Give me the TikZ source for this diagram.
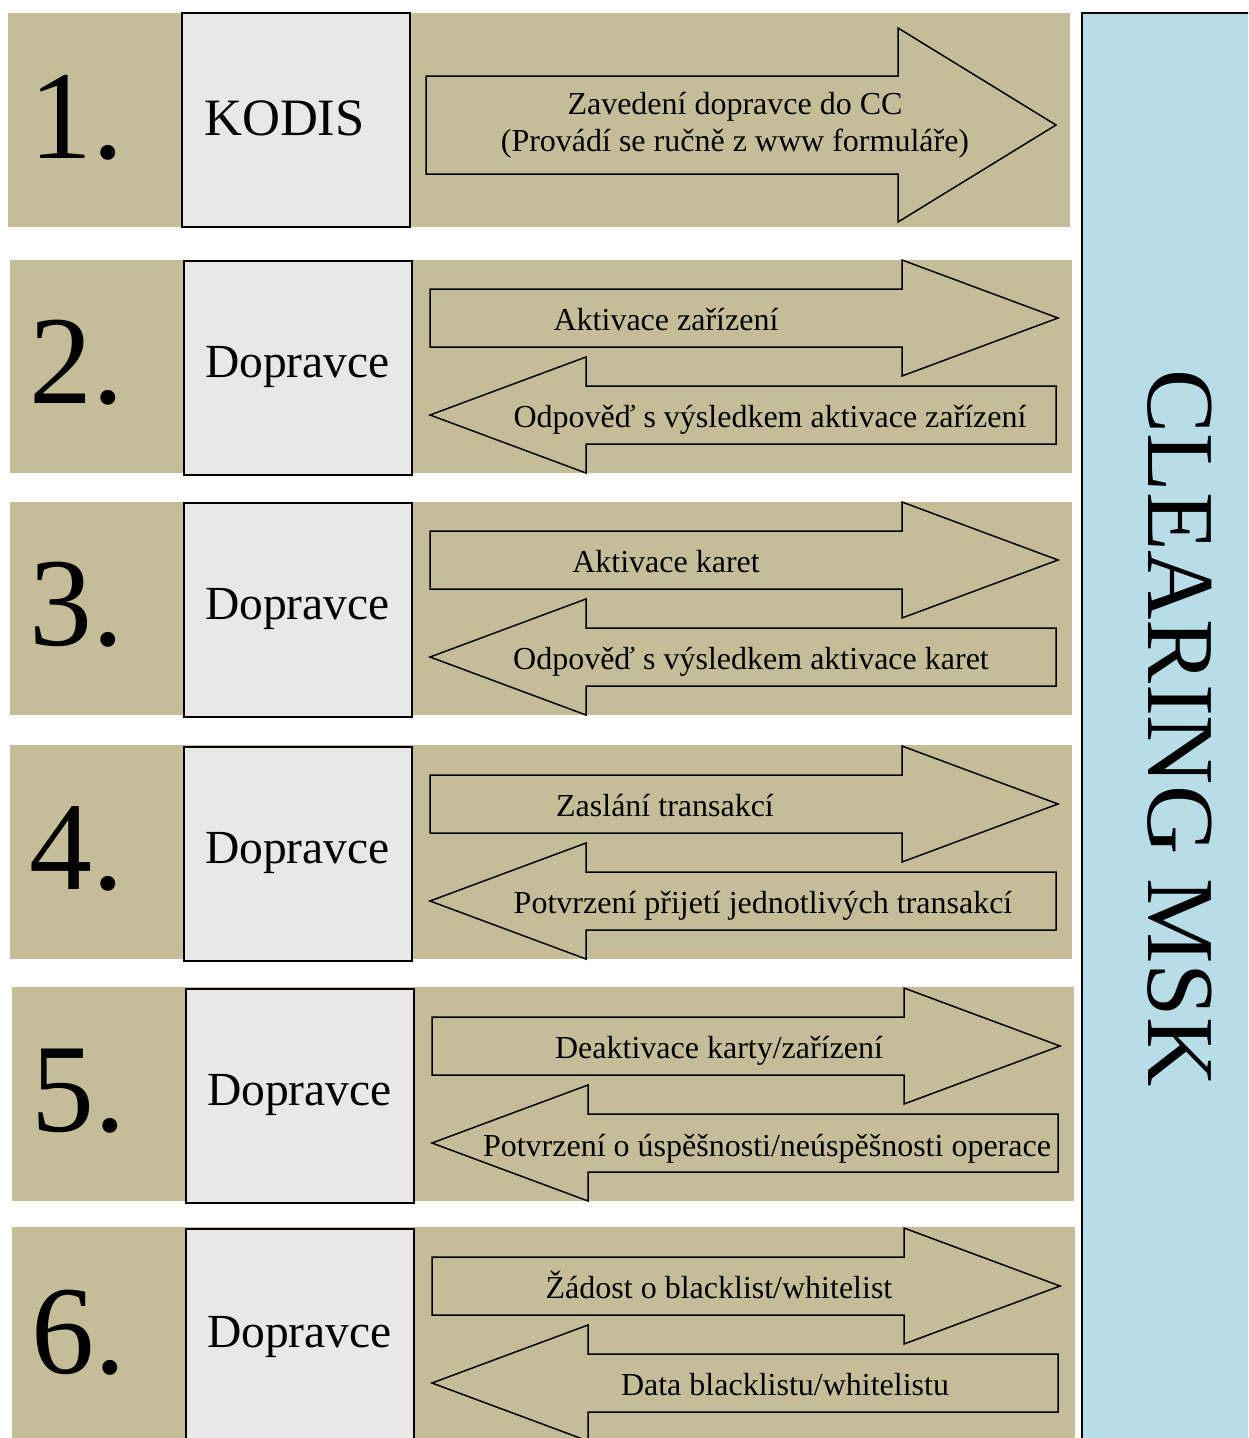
\documentclass[tikz,border=0pt]{standalone}
\usepackage{fontspec}
\setmainfont{Liberation Serif}
\definecolor{rowtan}{RGB}{196,189,151}
\definecolor{boxgray}{RGB}{232,232,232}
\definecolor{clearblue}{RGB}{183,221,232}
\tikzset{
  rowbg/.style={fill=rowtan},
  party/.style={draw,fill=boxgray,line width=1.5pt},
  blockarr/.style={draw,fill=rowtan,line width=1.5pt,line join=miter},
  msg/.style={inner sep=0pt,font=\fontsize{32}{37}\selectfont},
  who/.style={inner sep=0pt,anchor=base west},
  num/.style={inner sep=0pt,anchor=base,font=\fontsize{126}{130}\selectfont}
}

\begin{document}
\begin{tikzpicture}[x=1pt,y=-1pt]
\useasboundingbox (0,0) rectangle (1248,1438);
\clip (0,0) rectangle (1248,1438);

% clearing centre
\draw[fill=clearblue,line width=2pt] (1082,13) rectangle (1270,1460);
\node[inner sep=0pt,rotate=-90,font=\fontsize{96}{100}\selectfont] (cc) at (1180,728) {CLEARING MSK};

% row backgrounds
\fill[rowbg] (8,13) rectangle (1070,227);
\fill[rowbg] (10,260) rectangle (1072,473);
\fill[rowbg] (10,502) rectangle (1072,715);
\fill[rowbg] (10,745) rectangle (1072,959);
\fill[rowbg] (12,987) rectangle (1074,1201);
\fill[rowbg] (12,1227) rectangle (1075,1460);

% step numbers
\node[num] (s1) at (77,158) {1.};
\node[num] (s2) at (77,403) {2.};
\node[num] (s3) at (77,645) {3.};
\node[num] (s4) at (77,889) {4.};
\node[num] (s5) at (79,1131) {5.};
\node[num] (s6) at (79,1373) {6.};

% parties
\draw[party] (182,13) rectangle (410,227);
\draw[party] (184,261) rectangle (412,475);
\draw[party] (184,503) rectangle (412,717);
\draw[party] (184,747) rectangle (412,961);
\draw[party] (186,989) rectangle (414,1203);
\draw[party] (186,1229) rectangle (414,1460);
\node[who,font=\fontsize{52.5}{55}\selectfont] (p1) at (204,135) {KODIS};
\node[who,font=\fontsize{47.5}{50}\selectfont] (p2) at (205,377) {Dopravce};
\node[who,font=\fontsize{47.5}{50}\selectfont] (p3) at (205,619) {Dopravce};
\node[who,font=\fontsize{47.5}{50}\selectfont] (p4) at (205,863) {Dopravce};
\node[who,font=\fontsize{47.5}{50}\selectfont] (p5) at (207,1105) {Dopravce};
\node[who,font=\fontsize{47.5}{50}\selectfont] (p6) at (207,1347) {Dopravce};

% step 1
\draw[blockarr] (426,76) -- (898,76) -- (898,28) -- (1056,125) -- (898,222) -- (898,174) -- (426,174) -- cycle;
\node[msg,align=center] (r1) at (735,125) {Zavedení dopravce do CC\\(Provádí se ručně z www formuláře)};

% step 2
\draw[blockarr] (430,289) -- (902,289) -- (902,260) -- (1058,318) -- (902,376) -- (902,347) -- (430,347) -- cycle;
\draw[blockarr] (1056,386) -- (586,386) -- (586,357) -- (430,415) -- (586,473) -- (586,444) -- (1056,444) -- cycle;
\node[msg,anchor=base] (r2) at (666,330) {Aktivace zařízení};
\node[msg,anchor=base] (o2) at (770,427) {Odpověď s výsledkem aktivace zařízení};

% step 3
\draw[blockarr] (430,531) -- (902,531) -- (902,502) -- (1058,560) -- (902,618) -- (902,589) -- (430,589) -- cycle;
\draw[blockarr] (1056,628) -- (586,628) -- (586,599) -- (430,657) -- (586,715) -- (586,686) -- (1056,686) -- cycle;
\node[msg,anchor=base] (r3) at (666,572) {Aktivace karet};
\node[msg,anchor=base] (o3) at (751,669) {Odpověď s výsledkem aktivace karet};

% step 4
\draw[blockarr] (430,775) -- (902,775) -- (902,746) -- (1058,804) -- (902,862) -- (902,833) -- (430,833) -- cycle;
\draw[blockarr] (1056,872) -- (586,872) -- (586,843) -- (430,901) -- (586,959) -- (586,930) -- (1056,930) -- cycle;
\node[msg,anchor=base] (r4) at (665,816) {Zaslání transakcí};
\node[msg,anchor=base] (o4) at (763,913) {Potvrzení přijetí jednotlivých transakcí};

% step 5
\draw[blockarr] (432,1017) -- (904,1017) -- (904,988) -- (1060,1046) -- (904,1104) -- (904,1075) -- (432,1075) -- cycle;
\draw[blockarr] (1058,1114) -- (588,1114) -- (588,1085) -- (432,1143) -- (588,1201) -- (588,1172) -- (1058,1172) -- cycle;
\node[msg,anchor=base] (r5) at (719,1058) {Deaktivace karty/zařízení};
\node[msg,anchor=base] (o5) at (767,1156) {Potvrzení o úspěšnosti/neúspěšnosti operace};

% step 6
\draw[blockarr] (432,1257) -- (904,1257) -- (904,1228) -- (1060,1286) -- (904,1344) -- (904,1315) -- (432,1315) -- cycle;
\draw[blockarr] (1058,1354) -- (588,1354) -- (588,1325) -- (432,1383) -- (588,1441) -- (588,1412) -- (1058,1412) -- cycle;
\node[msg,anchor=base] (r6) at (719,1298) {Žádost o blacklist/whitelist};
\node[msg,anchor=base] (o6) at (785,1395) {Data blacklistu/whitelistu};
\end{tikzpicture}
\end{document}
